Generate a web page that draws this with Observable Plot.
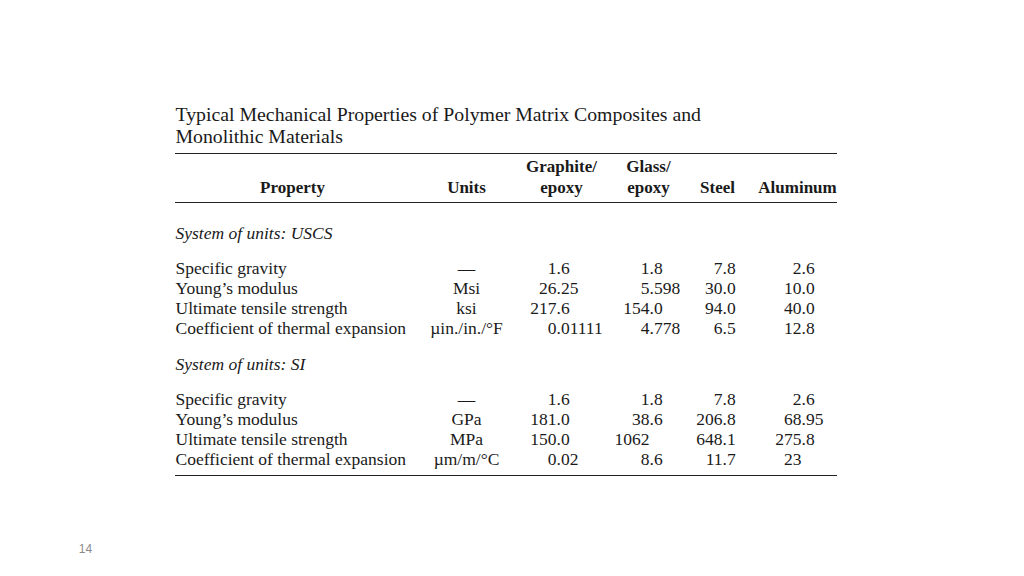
<!DOCTYPE html>
<html><head><meta charset="utf-8">
<script src="https://cdn.jsdelivr.net/npm/d3@7"></script>
<script src="https://cdn.jsdelivr.net/npm/@observablehq/plot@0.6"></script>
<style>
html,body{margin:0;padding:0;background:#fff;}
#chart{width:1024px;height:576px;overflow:hidden;}
</style></head><body><div id="chart"></div>
<script>
// ---- data ----
const titleLines = ["Typical Mechanical Properties of Polymer Matrix Composites and", "Monolithic Materials"];
const headerTop = ["", "", "Graphite/", "Glass/", "", ""];
const headerBottom = ["Property", "Units", "epoxy", "epoxy", "Steel", "Aluminum"];
const sections = ["System of units: USCS", "System of units: SI"];
const properties = ["Specific gravity", "Young\u2019s modulus", "Ultimate tensile strength", "Coefficient of thermal expansion"];
const unitsUSCS = ["\u2014", "Msi", "ksi", "\u00b5in./in./\u00b0F"];
const unitsSI = ["\u2014", "GPa", "MPa", "\u00b5m/m/\u00b0C"];
const graphiteUSCS = ["1.6", "26.25", "217.6", "0.01111"];
const glassUSCS = ["1.8", "5.598", "154.0", "4.778"];
const steelUSCS = ["7.8", "30.0", "94.0", "6.5"];
const aluminumUSCS = ["2.6", "10.0", "40.0", "12.8"];
const graphiteSI = ["1.6", "181.0", "150.0", "0.02"];
const glassSI = ["1.8", "38.6", "1062", "8.6"];
const steelSI = ["7.8", "206.8", "648.1", "11.7"];
const aluminumSI = ["2.6", "68.95", "275.8", "23"];
const pageNumber = "14";

// ---- layout (scale domains/ranges) ----
const xKeys = ["page", "prop", "propHead", "units", "graph", "graphHead", "glass", "glassHead", "steel", "steelHead", "alum", "alumHead", "end"];
const xPix  = [85, 175, 292, 466, 556, 561, 649, 648, 722, 717, 801, 797, 837];
const yKeys = ["title1", "title2", "ruleTop", "head1", "head2", "ruleMid", "sec0", "r0_0", "r0_1", "r0_2", "r0_3", "sec1", "r1_0", "r1_1", "r1_2", "r1_3", "ruleBottom", "page"];
const yPix  = [114, 136, 153, 166, 187, 202, 233, 268, 288, 308, 328, 364, 399, 419, 439, 459, 475, 549];
const headKeys = ["propHead", "units", "graphHead", "glassHead", "steelHead", "alumHead"];
const valKeys = ["graph", "glass", "steel", "alum"];

const bodyRows = [];
const unitRows = [];
const cells = [];
[[unitsUSCS, [graphiteUSCS, glassUSCS, steelUSCS, aluminumUSCS]], [unitsSI, [graphiteSI, glassSI, steelSI, aluminumSI]]].forEach(([units, cols], s) => {
  properties.forEach((p, i) => {
    bodyRows.push({row: `r${s}_${i}`, text: p});
    unitRows.push({row: `r${s}_${i}`, text: units[i]});
    cols.forEach((col, c) => {
      const [ip, fp] = col[i].split(".");
      cells.push({row: `r${s}_${i}`, col: valKeys[c], int: ip, frac: fp !== undefined ? "." + fp : ""});
    });
  });
});
const headers = headKeys.map((k, i) => ({col: k, top: headerTop[i], bottom: headerBottom[i]}));

const ink = "#1a1a1a";
const serif = "'Liberation Serif', 'Times New Roman', serif";
const bodySize = 17.5;

const chart = Plot.plot({
  width: 1024, height: 576, margin: 0,
  x: {type: "ordinal", domain: xKeys, range: xPix, axis: null},
  y: {type: "ordinal", domain: yKeys, range: yPix, axis: null},
  style: {fontFamily: serif, background: "#fff"},
  marks: [
    Plot.text(titleLines, {x: () => "prop", y: (d, i) => yKeys[i], text: d => d, textAnchor: "start", fontSize: 19.8, fill: ink}),
    Plot.ruleY(["ruleTop", "ruleMid", "ruleBottom"], {y: d => d, x1: () => "prop", x2: () => "end", stroke: "#222", strokeWidth: 1}),
    Plot.text(headers, {x: "col", y: () => "head1", text: "top", fontSize: 17, fontWeight: 600, fill: ink}),
    Plot.text(headers, {x: "col", y: () => "head2", text: "bottom", fontSize: 17, fontWeight: 600, fill: ink}),
    Plot.text(sections, {x: () => "prop", y: (d, i) => "sec" + i, text: d => d, textAnchor: "start", fontSize: bodySize, fontStyle: "italic", fill: ink}),
    Plot.text(bodyRows, {x: () => "prop", y: "row", text: "text", textAnchor: "start", fontSize: bodySize, fill: ink}),
    Plot.text(unitRows, {x: () => "units", y: "row", text: "text", fontSize: bodySize, fill: ink}),
    Plot.text(cells, {x: "col", y: "row", text: "int", textAnchor: "end", fontSize: bodySize, fill: ink}),
    Plot.text(cells, {x: "col", y: "row", text: "frac", textAnchor: "start", fontSize: bodySize, fill: ink}),
    Plot.text([pageNumber], {x: () => "page", y: () => "page", text: d => d, fontSize: 12, fontFamily: "'Liberation Sans', Arial, sans-serif", fill: "#8a8a8a"})
  ]
});
document.getElementById("chart").append(chart);
</script></body></html>
